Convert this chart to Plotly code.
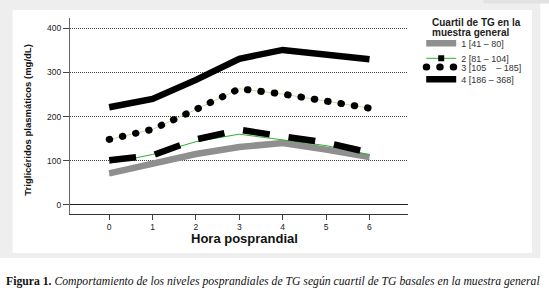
import plotly.graph_objects as go

# ---- data ----
hours = [0, 1, 2, 3, 4, 5, 6]
q1_thick = [71, 94, 115, 131, 140, 125, 108]
q1_thin = [67, 92, 112, 128, 137, 122, 103]
q2_dash = [101, 112, 148, 170, 155, 141, 118]
q2_thin = [94, 114, 143, 160, 147, 134, 113]
q3_vals = [148, 171, 216, 263, 251, 235, 219]
q4_vals = [221, 240, 283, 331, 351, 339, 330]

legend_names = ["1 [41 \u2013 80]", "2 [81 \u2013 104]",
                "3 [105\u00a0\u00a0\u00a0 \u2013 185]", "4 [186 \u2013 368]"]
y_ticks = [0, 100, 200, 300, 400]
x_ticks = [0, 1, 2, 3, 4, 5, 6]

W, H = 549, 293
L, R, T, B = 70, 407.8, 18, 214   # plot area in px


def px(x):
    return (x - L) / (R - L)


def py(y):
    return (B - y) / (B - T)


fig = go.Figure()

# series 1
fig.add_trace(go.Scatter(x=hours, y=q1_thin, mode="lines",
                         line=dict(color="#3b5fd0", width=1), showlegend=False))
fig.add_trace(go.Scatter(x=hours, y=q1_thick, mode="lines", name=legend_names[0],
                         line=dict(color="#8f8f8f", width=6.5), legend="legend"))
# series 2
fig.add_trace(go.Scatter(x=hours, y=q2_thin, mode="lines",
                         line=dict(color="#2fb02f", width=1), showlegend=False))
fig.add_trace(go.Scatter(x=hours, y=q2_dash, mode="lines",
                         line=dict(color="black", width=6.5, dash="27px,19px"),
                         showlegend=False))
fig.add_trace(go.Scatter(x=[None], y=[None], mode="lines+markers", name=legend_names[1],
                         line=dict(color="#2fb02f", width=1),
                         marker=dict(symbol="square", size=6, color="black"),
                         legend="legend2"))
# series 3 (round dots: dash pattern + round line caps set after drawing)
fig.add_trace(go.Scatter(x=hours, y=q3_vals, mode="lines",
                         line=dict(color="#d9d3a0", width=1), showlegend=False))
fig.add_trace(go.Scatter(x=hours, y=q3_vals, mode="lines", name=legend_names[2],
                         line=dict(color="black", width=7, dash="0.5px,13px"),
                         legend="legend3"))
# series 4
fig.add_trace(go.Scatter(x=hours, y=q4_vals, mode="lines", name=legend_names[3],
                         line=dict(color="black", width=6.5), legend="legend4"))

leg_common = dict(bgcolor="rgba(0,0,0,0)", font=dict(family="Liberation Sans", size=9, color="#333"),
                  xanchor="left", yanchor="middle", itemwidth=30, tracegroupgap=0)
lx = px(421)
fig.update_layout(
    legend=dict(x=lx, y=py(43.3), **leg_common),
    legend2=dict(x=lx, y=py(58.3), **leg_common),
    legend3=dict(x=lx, y=py(67), **leg_common),
    legend4=dict(x=lx, y=py(79.3), **leg_common),
)

fig.update_xaxes(range=[-0.904, 6.888], tickvals=x_ticks, ticks="outside", ticklen=5,
                 tickcolor="#444", showline=True, linecolor="#333", linewidth=1,
                 showgrid=False, zeroline=False,
                 tickfont=dict(family="Liberation Sans", size=8.5, color="#222"))
fig.update_yaxes(range=[-21, 423.4], tickvals=y_ticks, ticks="outside", ticklen=6,
                 tickcolor="#444", showline=True, linecolor="#666", linewidth=1,
                 showgrid=True, gridcolor="#444", griddash="1px,1px", gridwidth=1,
                 zeroline=True, zerolinecolor="#222", zerolinewidth=1,
                 tickfont=dict(family="Liberation Sans", size=8.5, color="#222"))

shapes = [
    dict(type="rect", xref="paper", yref="paper", x0=px(0), x1=px(540), y0=py(258), y1=py(0),
         fillcolor="#eeeeee", line=dict(width=0), layer="below"),
    dict(type="rect", xref="paper", yref="paper", x0=px(12.6), x1=px(531.7), y0=py(253), y1=py(10),
         fillcolor="white", line=dict(width=0), layer="below"),
    dict(type="rect", xref="paper", yref="paper", x0=px(483), x1=px(549), y0=py(3.5), y1=py(0),
         fillcolor="#e2e2e2", line=dict(width=0), layer="below"),
]

annotations = [
    dict(text="<b>Hora posprandial</b>", xref="paper", yref="paper", x=px(244), y=py(238.3),
         showarrow=False, xanchor="center", yanchor="middle",
         font=dict(family="Liberation Sans", size=13, color="#111")),
    dict(text="<b>Triglicéridos plasmáticos (mg/dL)</b>", xref="paper", yref="paper",
         x=px(27.5), y=py(119.2), textangle=-90, showarrow=False,
         xanchor="center", yanchor="middle",
         font=dict(family="Liberation Sans", size=9.5, color="#111")),
    dict(text="<b>Cuartil de TG en la</b>", xref="paper", yref="paper", x=px(430), y=py(22),
         showarrow=False, xanchor="left", yanchor="middle",
         font=dict(family="Liberation Sans", size=10, color="#222")),
    dict(text="<b>muestra general</b>", xref="paper", yref="paper", x=px(430), y=py(32.5),
         showarrow=False, xanchor="left", yanchor="middle",
         font=dict(family="Liberation Sans", size=10, color="#222")),
    dict(text="<b>Figura 1.</b> <i>Comportamiento de los niveles posprandiales de TG según cuartil de TG basales en la muestra general</i>",
         xref="paper", yref="paper", x=px(4), y=py(281.7), showarrow=False,
         xanchor="left", yanchor="middle",
         font=dict(family="Liberation Serif", size=11.7, color="#111")),
]

fig.update_layout(
    width=W, height=H,
    margin=dict(l=L, r=W - R, t=T, b=H - B, pad=0, autoexpand=False),
    paper_bgcolor="white", plot_bgcolor="rgba(0,0,0,0)",
    shapes=shapes, annotations=annotations,
)

post = """
document.body.style.margin='0px';
var gd = document.getElementById('{plot_id}');
gd.querySelectorAll('path').forEach(function(p){
  var d = p.style.strokeDasharray || p.getAttribute('stroke-dasharray') || '';
  if (d.indexOf('13') >= 0 && d.indexOf('0.5') >= 0) { p.style.strokeLinecap = 'round'; }
});
"""

fig.write_html("out.html", config={"displayModeBar": False}, post_script=post)
